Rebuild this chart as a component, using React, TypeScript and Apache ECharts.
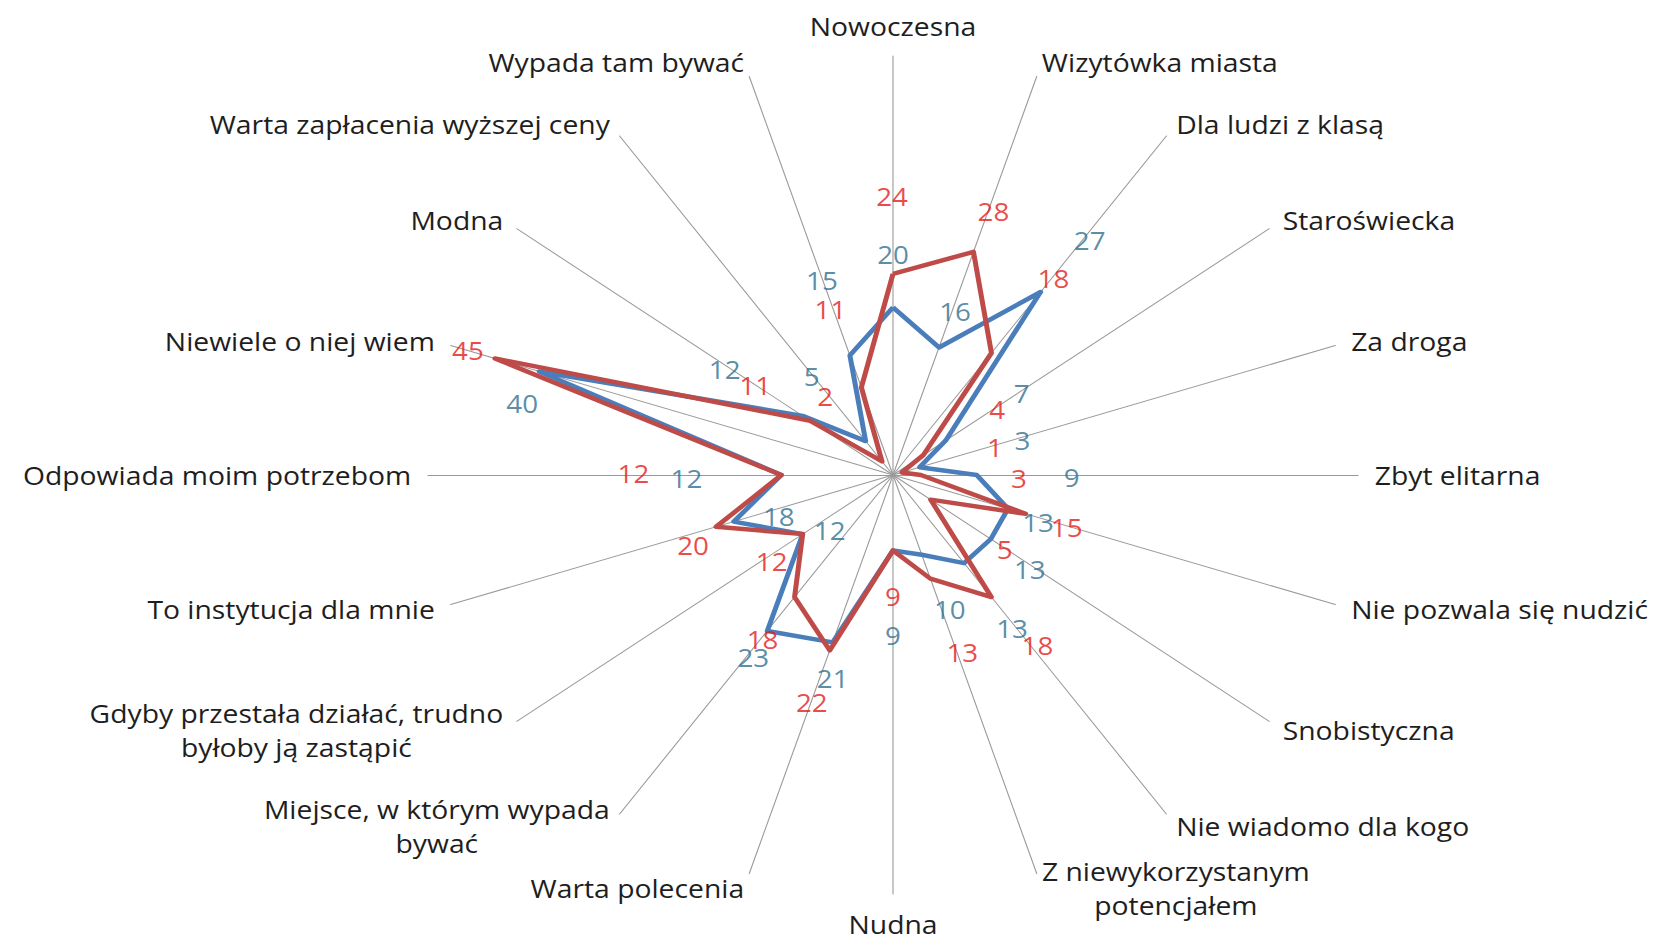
import React, { useEffect, useRef } from "react";
import * as echarts from "echarts";

// ---- data ----
const categories = [
  "Nowoczesna",
  "Wizytówka miasta",
  "Dla ludzi z klasą",
  "Staroświecka",
  "Za droga",
  "Zbyt elitarna",
  "Nie pozwala się nudzić",
  "Snobistyczna",
  "Nie wiadomo dla kogo",
  "Z niewykorzystanym\npotencjałem",
  "Nudna",
  "Warta polecenia",
  "Miejsce, w którym wypada\nbywać",
  "Gdyby przestała działać, trudno\nbyłoby ją zastąpić",
  "To instytucja dla mnie",
  "Odpowiada moim potrzebom",
  "Niewiele o niej wiem",
  "Modna",
  "Warta zapłacenia wyższej ceny",
  "Wypada tam bywać",
];
const seriesBlue = [20, 16, 27, 7, 3, 9, 13, 13, 13, 10, 9, 21, 23, 12, 18, 12, 40, 12, 5, 15];
const seriesRed = [24, 28, 18, 4, 1, 3, 15, 5, 18, 13, 9, 22, 18, 12, 20, 12, 45, 11, 2, 11];
const axisMin = 0;
const axisMax = 50;

// ---- styles (label offsets in page pixels, relative to the data point) ----
const blueLabelOffsets = [
  [0, -53], [16, -36], [49, -51], [76, -47], [103, -27], [95, 3], [30, 14], [39, 31],
  [48, 65], [28, 55], [0, 85], [0, 36], [-14, 27], [27, -4], [45, -5], [-95, 4],
  [-17, 32], [-78, -46], [-54, -65], [-28, -75],
];
const redLabelOffsets = [
  [-1, -77], [20, -40], [62, -74], [74, -46], [93, -25], [98, 4], [41, 14], [74, 50],
  [46, 49], [32, 74], [0, 46], [-18, 52], [-32, 43], [-31, 27], [-23, 19], [-148, -1],
  [-27, -8], [-55, -35], [-57, -65], [-31, -78],
];

const STRETCH = 1.11; // horizontal stretch of the reference picture
const PAGE_W = 1660;
const PAGE_H = 944;
const CHART_W = Math.round(PAGE_W / STRETCH);
const CENTER = [893 / STRETCH, 475];
const RADIUS = 419;
const FONT = "'Open Sans', sans-serif";
const NAME_SIZE = 25.5;
const BLUE_LINE = "#4A7EBB";
const RED_LINE = "#BE4B48";
const BLUE_TEXT = "#2F6F8F";
const RED_TEXT = "#E41B17";
const NAME_TEXT = "#1E1E1E";

export default function App() {
  const ref = useRef<HTMLDivElement>(null);

  useEffect(() => {
    if (!ref.current) return;
    const chart = echarts.init(ref.current, undefined, { renderer: "svg" });
    const n = categories.length;
    // radar places indicators counter-clockwise; reorder so they run clockwise
    const order = categories.map((_, i) => (n - i) % n);

    const labelSeries = (values: number[], offsets: number[][], color: string, name: string) => ({
      type: "scatter",
      name,
      coordinateSystem: "polar",
      symbolSize: 1,
      silent: true,
      z: 5,
      itemStyle: { color: "rgba(0,0,0,0)" },
      label: {
        show: true,
        position: "inside",
        color,
        fontSize: 25,
        fontFamily: FONT,
        formatter: (p: any) => String(Array.isArray(p.value) ? p.value[0] : p.value),
      },
      data: values.map((v, i) => ({
        value: [v, i],
        label: { offset: [offsets[i][0] / STRETCH, offsets[i][1]] },
      })),
    });

    chart.setOption({
      animation: false,
      radar: {
        center: CENTER,
        radius: RADIUS,
        startAngle: 90,
        shape: "polygon",
        nameGap: 15,
        splitNumber: 5,
        indicator: order.map((i) => ({ name: categories[i], min: axisMin, max: axisMax })),
        axisName: {
          color: NAME_TEXT,
          fontSize: NAME_SIZE,
          fontFamily: FONT,
          formatter: (name: string) => {
            const lines = name.split("\n");
            const key = lines.length > 1 ? "c" : "s";
            return lines.map((l) => `{${key}|${l}}`).join("\n");
          },
          rich: {
            c: {
              color: NAME_TEXT,
              fontSize: NAME_SIZE,
              fontFamily: FONT,
              lineHeight: 34,
              align: "center",
            },
            s: {
              color: NAME_TEXT,
              fontSize: NAME_SIZE,
              fontFamily: FONT,
              lineHeight: 30,
            },
          },
        },
        axisLine: { show: true, lineStyle: { color: "#9A9A9A", width: 1 } },
        axisTick: { show: false },
        axisLabel: { show: false },
        splitLine: { show: false },
        splitArea: { show: false },
      },
      polar: { center: CENTER, radius: RADIUS },
      angleAxis: {
        type: "category",
        data: categories,
        boundaryGap: false,
        startAngle: 90,
        clockwise: true,
        show: false,
      },
      radiusAxis: { type: "value", min: axisMin, max: axisMax, show: false },
      series: [
        {
          type: "radar",
          name: "Seria 1",
          symbol: "none",
          z: 2,
          lineStyle: { color: BLUE_LINE, width: 4.5 },
          itemStyle: { color: BLUE_LINE },
          data: [{ name: "Seria 1", value: order.map((i) => seriesBlue[i]) }],
        },
        {
          type: "radar",
          name: "Seria 2",
          symbol: "none",
          z: 3,
          lineStyle: { color: RED_LINE, width: 4.5 },
          itemStyle: { color: RED_LINE },
          data: [{ name: "Seria 2", value: order.map((i) => seriesRed[i]) }],
        },
        labelSeries(seriesBlue, blueLabelOffsets, BLUE_TEXT, "Seria 1 etykiety"),
        labelSeries(seriesRed, redLabelOffsets, RED_TEXT, "Seria 2 etykiety"),
      ],
    });
    return () => chart.dispose();
  }, []);

  return (
    <div
      ref={ref}
      style={{
        position: "absolute",
        left: 0,
        top: 0,
        width: CHART_W,
        height: PAGE_H,
        transform: `scaleX(${STRETCH})`,
        transformOrigin: "0 0",
        background: "#fff",
      }}
    />
  );
}
